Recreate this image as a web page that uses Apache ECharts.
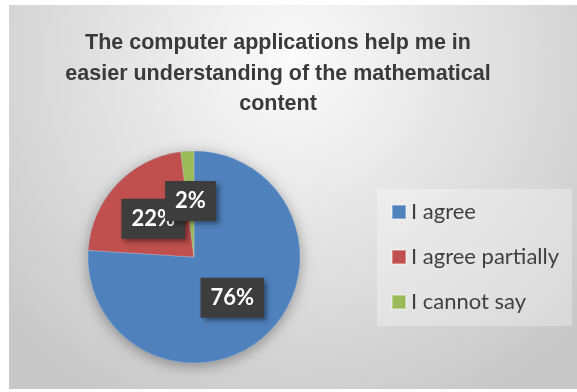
<!DOCTYPE html>
<html>
<head>
<meta charset="utf-8">
<script src="https://cdn.jsdelivr.net/npm/echarts@6/dist/echarts.min.js"></script>
<style>
html,body{margin:0;padding:0;background:#ffffff;}
#main{width:577px;height:392px;}
</style>
</head>
<body>
<div id="main"></div>
<script>
const titleText = 'The computer applications help me in\neasier understanding of the mathematical\ncontent';
const categories = ['I agree', 'I agree partially', 'I cannot say'];
const values = [76, 22, 2];
const colors = ['#4F81BD', '#C0504D', '#9BBB59'];

const chart = echarts.init(document.getElementById('main'), null, {renderer: 'canvas'});
const total = values.reduce((a, b) => a + b, 0);

const option = {
  animation: false,
  graphic: [{
    type: 'rect',
    z: -10,
    silent: true,
    shape: {x: 9, y: 5, width: 568, height: 384},
    style: {
      fill: {
        type: 'radial', x: 0.5, y: 0.15, r: 1.0,
        colorStops: [
          {offset: 0, color: '#fbfbfb'},
          {offset: 0.45, color: '#e4e4e4'},
          {offset: 1, color: '#c8c8c8'}
        ]
      }
    }
  }],
  title: {
    text: titleText,
    left: 278,
    top: 28,
    padding: 0,
    textAlign: 'center',
    textStyle: {
      fontFamily: 'Liberation Sans',
      fontSize: 21.5,
      fontWeight: 'bold',
      color: '#3a3a3a',
      lineHeight: 30.5
    }
  },
  legend: {
    data: categories,
    orient: 'vertical',
    left: 377,
    top: 189,
    padding: [11, 13, 12, 14],
    backgroundColor: 'rgba(255,255,255,0.3)',
    itemGap: 21,
    itemWidth: 14,
    itemHeight: 14,
    itemTextGap: 6,
    icon: 'rect',
    selectedMode: false,
    textStyle: {
      fontFamily: 'Lato',
      fontSize: 22,
      lineHeight: 24,
      color: '#404040'
    }
  },
  series: [
    {
      type: 'pie',
      name: 'shadow',
      silent: true,
      center: [194, 257],
      radius: 106,
      z: 1,
      label: {show: false},
      labelLine: {show: false},
      itemStyle: {
        color: '#4F81BD',
        shadowBlur: 14,
        shadowColor: 'rgba(0,0,0,0.35)',
        shadowOffsetY: 3
      },
      data: [{name: 'bg', value: total}]
    },
    {
      type: 'pie',
      name: 'answers',
      center: [194, 257],
      radius: 106,
      startAngle: 90,
      clockwise: true,
      avoidLabelOverlap: false,
      z: 2,
      silent: true,
      itemStyle: {
        borderColor: 'rgba(255,255,255,0.35)',
        borderWidth: 0.6
      },
      label: {
        show: true,
        position: 'inside',
        formatter: p => p.value + '%',
        fontFamily: 'Lato',
        fontWeight: 'bold',
        fontSize: 22,
        lineHeight: 24,
        color: '#ffffff',
        backgroundColor: '#3d3d3d',
        padding: [8, 10],
        shadowColor: 'rgba(0,0,0,0.45)',
        shadowBlur: 5,
        shadowOffsetX: 3,
        shadowOffsetY: 3
      },
      labelLayout: {hideOverlap: false},
      labelLine: {show: false},
      data: categories.map((c, i) => ({name: c, value: values[i], itemStyle: {color: colors[i]}}))
    }
  ]
};
chart.setOption(option);
</script>
</body>
</html>
